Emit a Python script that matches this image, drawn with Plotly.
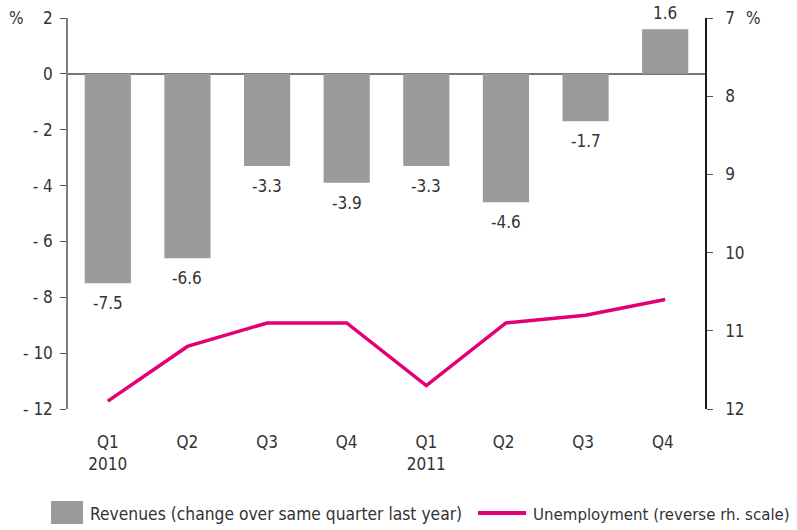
import plotly.graph_objects as go

categories = ["Q1<br>2010", "Q2", "Q3", "Q4", "Q1<br>2011", "Q2 ", "Q3 ", "Q4 "]
revenues = [-7.5, -6.6, -3.3, -3.9, -3.3, -4.6, -1.7, 1.6]
unemployment = [11.9, 11.2, 10.9, 10.9, 11.7, 10.9, 10.8, 10.6]
left_ticks = [-12, -10, -8, -6, -4, -2, 0, 2]
left_ticktext = ["- 12", "- 10", "- 8", "- 6", "- 4", "- 2", "0", "2"]
right_ticks = [7, 8, 9, 10, 11, 12]

FONT = "DejaVu Sans Condensed, Liberation Sans, sans-serif"
GRAY = "#9b9b9b"
PINK = "#e20074"
TXT = "#333333"
FS = 17

W, H = 797, 530
L, R, T, B = 68, 92, 18, 121

fig = go.Figure()
fig.add_trace(go.Bar(
    x=categories, y=revenues, marker=dict(color=GRAY, line=dict(width=0)),
    width=0.58, showlegend=False, yaxis="y"))
fig.add_trace(go.Scatter(
    x=categories, y=unemployment, mode="lines",
    line=dict(color=PINK, width=3.5), showlegend=False, yaxis="y2"))

# value labels at the bar ends
for c, v in zip(categories, revenues):
    fig.add_annotation(x=c, y=v, xref="x", yref="y", text=f"{v:.1f}", showarrow=False,
                       yshift=-20 if v < 0 else 16, xanchor="center", yanchor="middle",
                       font=dict(family=FONT, size=FS, color=TXT))

fig.update_layout(
    width=W, height=H,
    margin=dict(l=L, r=R, t=T, b=B, autoexpand=False),
    paper_bgcolor="white", plot_bgcolor="white",
    font=dict(family=FONT, size=FS, color=TXT),
    xaxis=dict(showline=False, ticks="", showgrid=False, zeroline=False,
               tickfont=dict(family=FONT, size=FS, color=TXT),
               ticklabelstandoff=21),
    yaxis=dict(range=[-12, 2], tickvals=left_ticks, ticktext=left_ticktext,
               showgrid=False, zeroline=True, zerolinecolor="#777777", zerolinewidth=1.5,
               showline=True, linecolor="#808080", linewidth=1.5,
               ticks="outside", ticklen=6, tickcolor="#555555", tickwidth=1,
               ticklabeloverflow="allow",
               tickfont=dict(family=FONT, size=FS, color=TXT), ticklabelstandoff=4),
    yaxis2=dict(range=[12, 7], tickvals=right_ticks, overlaying="y", side="right",
                showgrid=False, zeroline=False,
                showline=True, linecolor="#1a1a1a", linewidth=1.5,
                ticks="outside", ticklen=6, tickcolor="#555555", tickwidth=1,
                ticklabeloverflow="allow",
                tickfont=dict(family=FONT, size=FS, color=TXT), ticklabelstandoff=9),
)

PW, PH = 705 - 68, 409 - 18
def px_x(p):
    return (p - 68) / PW
def px_y(p):
    return (409 - p) / PH

fig.add_annotation(text="%", xref="x domain", yref="y domain", x=px_x(16), y=1.0,
                   showarrow=False, xanchor="center", yanchor="middle",
                   font=dict(family=FONT, size=FS, color=TXT))
fig.add_annotation(text="%", xref="x domain", yref="y domain", x=px_x(753), y=1.0,
                   showarrow=False, xanchor="center", yanchor="middle",
                   font=dict(family=FONT, size=FS, color=TXT))

# legend drawn manually
fig.add_shape(type="rect", xref="x domain", yref="y domain",
              x0=px_x(51), x1=px_x(83), y0=px_y(524), y1=px_y(501),
              fillcolor=GRAY, line=dict(width=0))
fig.add_annotation(text="Revenues (change over same quarter last year)", xref="x domain", yref="y domain",
                   x=px_x(88), y=px_y(514), showarrow=False, xanchor="left", yanchor="middle",
                   font=dict(family=FONT, size=17.3, color=TXT))
fig.add_shape(type="line", xref="x domain", yref="y domain",
              x0=px_x(478), x1=px_x(526), y0=px_y(513), y1=px_y(513),
              line=dict(color=PINK, width=4))
fig.add_annotation(text="Unemployment (reverse rh. scale)", xref="x domain", yref="y domain",
                   x=px_x(531), y=px_y(514), showarrow=False, xanchor="left", yanchor="middle",
                   font=dict(family=FONT, size=16.7, color=TXT))

fig.write_html("out.html", config={"displayModeBar": False},
               post_script="document.body.style.margin='0';")
